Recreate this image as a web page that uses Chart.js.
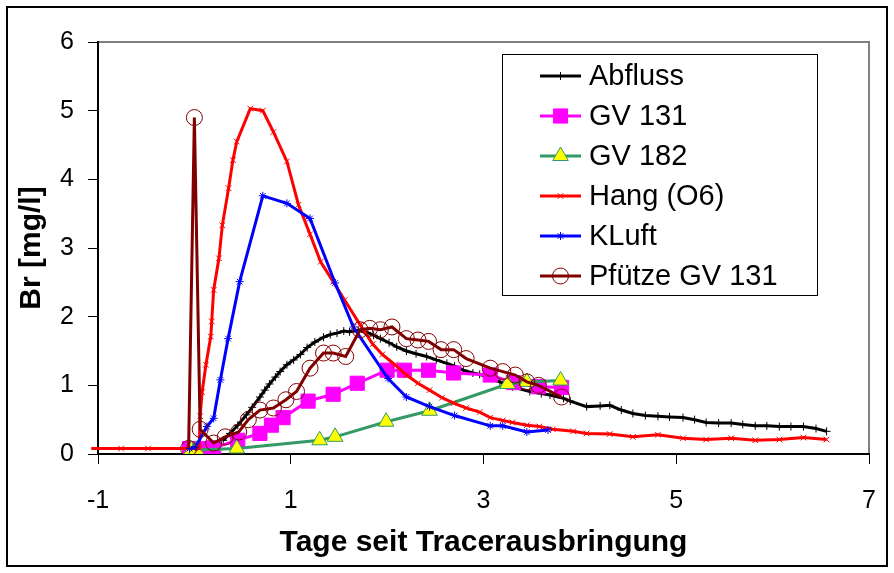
<!DOCTYPE html>
<html><head><meta charset="utf-8">
<script src="https://cdn.jsdelivr.net/npm/chart.js@4.4.0/dist/chart.umd.min.js"></script>
<style>html,body{margin:0;padding:0;background:#fff}canvas{display:block}</style>
</head><body>
<canvas id="c" width="894" height="573"></canvas>
<script>
// ---- data ----
const seriesNames = ['Abfluss', 'GV 131', 'GV 182', 'Hang (O6)', 'KLuft', 'Pfütze GV 131'];

const abflussX = [0.3, 0.37, 0.45, 0.54, 0.6, 0.68, 0.73, 0.78, 0.84, 0.89, 0.96, 1.03, 1.1, 1.17, 1.25, 1.34, 1.41, 1.48, 1.55, 1.61, 1.7, 1.79, 1.86, 1.93, 2.02, 2.10, 2.20, 2.30, 2.41, 2.51, 2.62, 2.70, 2.79, 2.89, 2.96, 3.07, 3.17, 3.3, 3.48, 3.6, 3.69, 3.83, 3.9, 4.07, 4.21, 4.31, 4.43, 4.55, 4.68, 4.81, 4.93, 5.07, 5.19, 5.31, 5.44, 5.57, 5.69, 5.82, 5.94, 6.07, 6.19, 6.32, 6.45, 6.56];
const abflussY = [0.2, 0.3, 0.42, 0.57, 0.68, 0.83, 0.93, 1.02, 1.12, 1.2, 1.3, 1.37, 1.45, 1.55, 1.63, 1.7, 1.74, 1.76, 1.79, 1.78, 1.8, 1.77, 1.73, 1.68, 1.62, 1.56, 1.5, 1.46, 1.42, 1.37, 1.32, 1.28, 1.22, 1.18, 1.16, 1.11, 1.05, 0.98, 0.91, 0.88, 0.86, 0.81, 0.77, 0.69, 0.70, 0.71, 0.64, 0.59, 0.56, 0.55, 0.54, 0.53, 0.5, 0.46, 0.45, 0.45, 0.43, 0.41, 0.41, 0.40, 0.40, 0.40, 0.37, 0.33];

const gv131X = [-0.05, 0.1, 0.2, 0.45, 0.68, 0.8, 0.92, 1.18, 1.44, 1.69, 2.0, 2.18, 2.43, 2.69, 3.07, 3.31, 3.57, 3.81];
const gv131Y = [0.08, 0.08, 0.09, 0.2, 0.3, 0.42, 0.53, 0.77, 0.87, 1.03, 1.22, 1.22, 1.22, 1.18, 1.15, 1.04, 0.98, 0.97];

const gv182X = [-0.03, 0.02, 0.44, 1.30, 1.46, 1.99, 2.44, 3.25, 3.45, 3.80];
const gv182Y = [0.06, 0.06, 0.08, 0.2, 0.25, 0.47, 0.63, 1.02, 1.05, 1.07];

const hangX = [-1.07, -0.76, -0.48, -0.05, 0.05, 0.06, 0.08, 0.12, 0.17, 0.18, 0.2, 0.255, 0.29, 0.355, 0.40, 0.44, 0.58, 0.71, 0.82, 0.96, 1.08, 1.2, 1.31, 1.44, 1.56, 1.72, 1.85, 1.95, 2.08, 2.2, 2.32, 2.44, 2.57, 2.69, 2.82, 2.96, 3.07, 3.2, 3.3, 3.45, 3.58, 3.72, 3.93, 4.07, 4.31, 4.55, 4.81, 5.07, 5.31, 5.57, 5.82, 6.07, 6.32, 6.56];
const hangY = [0.08, 0.08, 0.08, 0.08, 0.08, 0.55, 0.9, 1.3, 1.71, 1.93, 2.39, 2.85, 3.33, 3.87, 4.28, 4.55, 5.03, 5.0, 4.69, 4.26, 3.63, 3.2, 2.8, 2.51, 2.24, 1.88, 1.6, 1.45, 1.30, 1.15, 1.03, 0.93, 0.82, 0.74, 0.67, 0.61, 0.53, 0.49, 0.46, 0.42, 0.40, 0.36, 0.33, 0.30, 0.29, 0.25, 0.28, 0.23, 0.21, 0.23, 0.20, 0.21, 0.24, 0.21];

const kluftX = [-0.05, 0.01, 0.13, 0.20, 0.27, 0.35, 0.47, 0.71, 0.96, 1.20, 1.46, 1.65, 2.01, 2.20, 2.44, 2.70, 3.07, 3.20, 3.45, 3.67];
const kluftY = [0.08, 0.1, 0.40, 0.52, 1.08, 1.68, 2.51, 3.76, 3.65, 3.43, 2.49, 1.85, 1.10, 0.83, 0.69, 0.56, 0.41, 0.41, 0.32, 0.35];

const pfuetzeX = [-0.06, 0.0, 0.06, 0.2, 0.32, 0.46, 0.56, 0.68, 0.82, 0.95, 1.06, 1.20, 1.34, 1.44, 1.57, 1.72, 1.82, 1.93, 2.05, 2.20, 2.32, 2.43, 2.56, 2.69, 2.82, 3.07, 3.20, 3.33, 3.45, 3.57, 3.81];
const pfuetzeY = [0.08, 4.9, 0.36, 0.16, 0.25, 0.32, 0.50, 0.64, 0.67, 0.79, 0.91, 1.25, 1.47, 1.47, 1.42, 1.81, 1.83, 1.81, 1.85, 1.68, 1.66, 1.64, 1.52, 1.52, 1.39, 1.25, 1.20, 1.15, 1.05, 1.0, 0.83];

const xTicks = [-1, 1, 3, 5, 7];
const yTicks = [0, 1, 2, 3, 4, 5, 6];
const xTitle = 'Tage seit Tracerausbringung';
const yTitle = 'Br [mg/l]';

// ---- helpers ----
function pts(xs, ys) { return xs.map((x, i) => ({ x: x, y: ys[i] })); }
const FONT = "'Liberation Sans', Arial, sans-serif";
Chart.defaults.font.family = FONT;
Chart.defaults.color = '#000';

function ds(label, xs, ys, color, style, radius, bg, border, order, extra) {
  return Object.assign({
    label: label, data: pts(xs, ys), showLine: true, fill: false, tension: 0,
    borderColor: color, borderWidth: 3,
    pointStyle: style, pointRadius: radius, pointHoverRadius: radius,
    pointBackgroundColor: bg, pointBorderColor: border, pointBorderWidth: 1,
    order: order
  }, extra || {});
}

const datasets = [
  ds(seriesNames[0], abflussX, abflussY, '#000000', 'cross', 4, '#000000', '#000000', 6),
  ds(seriesNames[1], gv131X, gv131Y, '#FF00FF', 'rect', 10, '#FF00FF', '#FF00FF', 5),
  ds(seriesNames[2], gv182X, gv182Y, '#339966', 'triangle', 9, '#FFFF00', '#339966', 4),
  ds(seriesNames[3], hangX, hangY, '#FF0000', 'crossRot', 4, '#FF0000', '#FF0000', 3, { clip: false }),
  ds(seriesNames[4], kluftX, kluftY, '#0000FF', 'star', 4, '#0000FF', '#0000FF', 2),
  ds(seriesNames[5], pfuetzeX, pfuetzeY, '#800000', 'circle', 8, 'rgba(0,0,0,0)', '#800000', 1)
];

// frame + plot border
const framePlugin = {
  id: 'frame',
  beforeDraw(chart) {
    const ctx = chart.ctx, a = chart.chartArea;
    ctx.save();
    ctx.fillStyle = '#fff';
    ctx.fillRect(0, 0, chart.width, chart.height);
    ctx.strokeStyle = '#000'; ctx.lineWidth = 2;
    ctx.strokeRect(7, 7, 880, 559);
    ctx.strokeStyle = '#808080'; ctx.lineWidth = 2;
    ctx.beginPath();
    ctx.moveTo(a.left, a.top); ctx.lineTo(a.right, a.top); ctx.lineTo(a.right, a.bottom);
    ctx.stroke();
    ctx.restore();
  }
};

// legend box drawn from datasets
const legendPlugin = {
  id: 'legendBox',
  afterDraw(chart) {
    const ctx = chart.ctx;
    ctx.save();
    ctx.fillStyle = '#fff';
    ctx.fillRect(502.5, 54.5, 315, 241);
    ctx.strokeStyle = '#000'; ctx.lineWidth = 1;
    ctx.strokeRect(502.5, 54.5, 315, 241);
    chart.data.datasets.forEach((d, i) => {
      const y = 76 + i * 40;
      ctx.strokeStyle = d.borderColor; ctx.lineWidth = 3;
      ctx.beginPath(); ctx.moveTo(540, y); ctx.lineTo(581, y); ctx.stroke();
      ctx.fillStyle = d.pointBackgroundColor;
      ctx.strokeStyle = d.pointBorderColor;
      ctx.lineWidth = d.pointBorderWidth;
      Chart.helpers.drawPoint(ctx, { pointStyle: d.pointStyle, radius: d.pointRadius, borderWidth: d.pointBorderWidth, rotation: 0 }, 560.5, y);
      ctx.fillStyle = '#000';
      ctx.font = '29px ' + FONT;
      ctx.textBaseline = 'middle';
      ctx.textAlign = 'left';
      ctx.fillText(d.label, 589, y + 1);
    });
    ctx.restore();
  }
};

new Chart(document.getElementById('c'), {
  type: 'scatter',
  data: { datasets: datasets },
  options: {
    responsive: false, animation: false, devicePixelRatio: 1, events: [],
    layout: { padding: { left: 0, top: 42, right: 25, bottom: 0 } },
    plugins: { legend: { display: false }, tooltip: { enabled: false } },
    scales: {
      x: {
        type: 'linear', min: -1, max: 7,
        afterFit(s) { s.height = 119; s.paddingLeft = 0; s.paddingRight = 0; },
        afterBuildTicks(s) { s.ticks = xTicks.map(v => ({ value: v })); },
        ticks: { font: { size: 25 }, color: '#000', padding: 22, maxRotation: 0, autoSkip: false, callback: v => String(v) },
        grid: { drawOnChartArea: false, drawTicks: true, tickLength: 10, color: '#000', lineWidth: 1 },
        border: { display: true, color: '#000', width: 2 },
        title: { display: true, text: xTitle, font: { size: 30, weight: 'bold' }, color: '#000', padding: { top: 0, bottom: 12.5 } }
      },
      y: {
        type: 'linear', min: 0, max: 6,
        afterFit(s) { s.width = 98; s.paddingTop = 0; s.paddingBottom = 0; },
        afterBuildTicks(s) { s.ticks = yTicks.map(v => ({ value: v })); },
        ticks: { font: { size: 25 }, color: '#000', padding: 14, autoSkip: false, callback: v => String(v) },
        grid: { drawOnChartArea: false, drawTicks: true, tickLength: 10, color: '#000', lineWidth: 1 },
        border: { display: true, color: '#000', width: 2 },
        title: { display: true, text: yTitle, font: { size: 30, weight: 'bold' }, color: '#000', padding: { top: 14, bottom: 0 } }
      }
    }
  },
  plugins: [framePlugin, legendPlugin]
});
</script>
</body></html>
